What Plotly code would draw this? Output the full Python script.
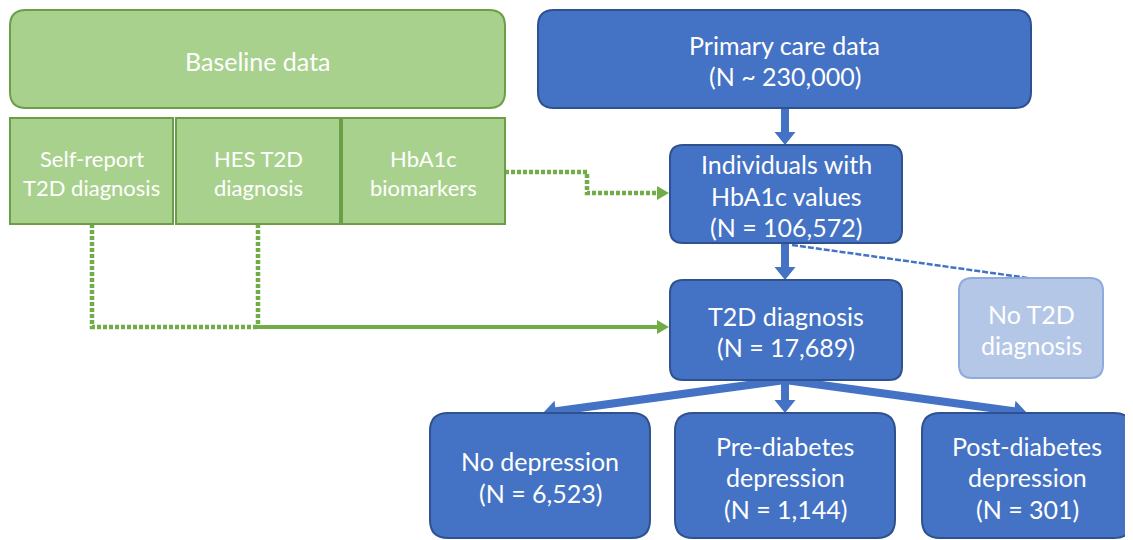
import math
import plotly.graph_objects as go

# box labels and counts
node_names = ["Baseline data",
              "Self-report<br>T2D diagnosis", "HES T2D<br>diagnosis", "HbA1c<br>biomarkers",
              "Primary care data", "Individuals with<br>HbA1c values", "T2D diagnosis",
              "No T2D<br>diagnosis",
              "No depression", "Pre-diabetes<br>depression", "Post-diabetes<br>depression"]
node_counts = [None, None, None, None,
               "~ 230,000", "= 106,572", "= 17,689", None,
               "= 6,523", "= 1,144", "= 301"]

# layout of the boxes (pixel space: x0, y0, x1, y1, corner radius)
boxes = [(10, 10, 505, 108, 16),
         (10, 118, 173, 224, 0), (176, 118, 340, 224, 0), (342, 118, 505, 224, 0),
         (538, 10, 1031, 108, 16), (670, 145, 902, 243, 13), (670, 280, 902, 380, 13),
         (959, 278, 1103, 378, 13),
         (430, 413, 650, 538, 18), (675, 413, 895, 538, 18), (922, 413, 1132, 538, 18)]
kinds = ["green", "green", "green", "green", "blue", "blue", "blue", "light",
         "blue", "blue", "blue"]

GREEN, GREEN_EDGE = "#A9D18E", "#6A9E47"
BLUE, BLUE_EDGE = "#4472C4", "#2F528F"
LIGHT, LIGHT_EDGE = "#B4C7E7", "#8FAADC"
ARROW_GREEN = "#70AD47"

W, H = 1133, 540
PAGE_MARGIN = 8  # browser body margin, the figure starts 8px in


def rounded_rect(x0, y0, x1, y1, r):
    if r == 0:
        return f"M{x0},{y0} L{x1},{y0} L{x1},{y1} L{x0},{y1} Z"
    return (f"M{x0+r},{y0} L{x1-r},{y0} Q{x1},{y0} {x1},{y0+r} "
            f"L{x1},{y1-r} Q{x1},{y1} {x1-r},{y1} L{x0+r},{y1} "
            f"Q{x0},{y1} {x0},{y1-r} L{x0},{y0+r} Q{x0},{y0} {x0+r},{y0} Z")


def arrow_path(x0, y0, x1, y1, w, hw, hl):
    L = math.hypot(x1 - x0, y1 - y0)
    dx, dy = (x1 - x0) / L, (y1 - y0) / L
    nx, ny = -dy, dx
    bx, by = x1 - dx * hl, y1 - dy * hl
    pts = [(x0 + nx * w / 2, y0 + ny * w / 2),
           (bx + nx * w / 2, by + ny * w / 2),
           (bx + nx * hw / 2, by + ny * hw / 2),
           (x1, y1),
           (bx - nx * hw / 2, by - ny * hw / 2),
           (bx - nx * w / 2, by - ny * w / 2),
           (x0 - nx * w / 2, y0 - ny * w / 2)]
    return "M" + " L".join(f"{px:.1f},{py:.1f}" for px, py in pts) + " Z"


fig = go.Figure()
shapes = []
annotations = []

# connectors first so boxes sit on top
dot = "4px,2px"
# HbA1c biomarkers -> Individuals
shapes.append(dict(type="path", path="M505,172 L587,172 L587,193 L659,193",
                   line=dict(color=ARROW_GREEN, width=4.5, dash=dot)))
shapes.append(dict(type="path", path=arrow_path(656, 193, 669, 193, 0.1, 14, 12),
                   fillcolor=ARROW_GREEN, line=dict(width=0)))
# Self-report and HES -> T2D diagnosis
shapes.append(dict(type="path", path="M92,224 L92,327 L258,327",
                   line=dict(color=ARROW_GREEN, width=4.5, dash=dot)))
shapes.append(dict(type="path", path="M258,224 L258,327",
                   line=dict(color=ARROW_GREEN, width=4.5, dash=dot)))
shapes.append(dict(type="path", path=arrow_path(257, 327, 669, 327, 4, 14, 12),
                   fillcolor=ARROW_GREEN, line=dict(width=0)))
# Individuals -> No T2D diagnosis (dashed)
shapes.append(dict(type="path", path="M792,245 L1028,278",
                   line=dict(color=BLUE, width=2.5, dash="6px,2px")))

# thick blue arrows
blue_arrows = [(785, 108, 785, 145), (785, 243, 785, 280),
               (785, 380, 543, 413), (785, 380, 785, 413), (785, 380, 1027, 413)]
for a in blue_arrows:
    shapes.append(dict(type="path", path=arrow_path(*a, 8, 21, 13),
                       fillcolor=BLUE, line=dict(width=0)))

# boxes
fills = {"green": (GREEN, GREEN_EDGE), "blue": (BLUE, BLUE_EDGE), "light": (LIGHT, LIGHT_EDGE)}
for (x0, y0, x1, y1, r), k in zip(boxes, kinds):
    fc, lc = fills[k]
    shapes.append(dict(type="path", path=rounded_rect(x0, y0, x1, y1, r),
                       fillcolor=fc, line=dict(color=lc, width=2)))

# texts
for i, (name, cnt) in enumerate(zip(node_names, node_counts)):
    x0, y0, x1, y1, r = boxes[i]
    lines = name.split("<br>")
    if cnt:
        lines.append(f"(N {cnt})")
    small = 1 <= i <= 3
    size = 22 if small else 25
    step = 29 if small else 31.5
    cx, cy = (x0 + x1) / 2, (y0 + y1) / 2 + 1.5
    for j, t in enumerate(lines):
        annotations.append(dict(x=cx, y=cy + (j - (len(lines) - 1) / 2) * step,
                                text=t, showarrow=False, xanchor="center", yanchor="middle",
                                font=dict(family="Lato, Carlito, Calibri, sans-serif",
                                          size=size, color="white")))

fig.update_layout(width=W - PAGE_MARGIN, height=H - PAGE_MARGIN,
                  margin=dict(l=0, r=0, t=0, b=0),
                  paper_bgcolor="white", plot_bgcolor="white",
                  shapes=shapes, annotations=annotations, showlegend=False)
fig.update_xaxes(range=[PAGE_MARGIN, W], visible=False, fixedrange=True)
fig.update_yaxes(range=[H, PAGE_MARGIN], visible=False, fixedrange=True)

fig.write_html("out.html")
